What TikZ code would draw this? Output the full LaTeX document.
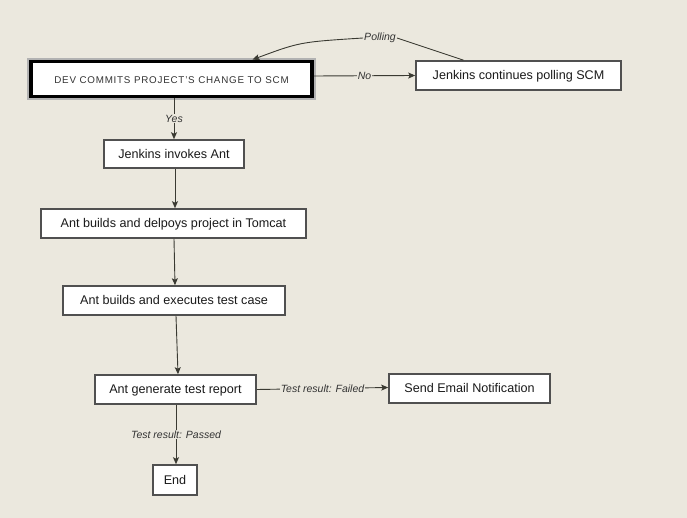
\documentclass[tikz,border=0pt]{standalone}
\usepackage{fontspec}
\setmainfont{Liberation Sans}
\usetikzlibrary{arrows.meta,calc}
\definecolor{bg}{HTML}{EBE8DE}
\definecolor{bord}{HTML}{505050}
\definecolor{ln}{HTML}{3A3A32}
\definecolor{txt}{HTML}{1A1A1A}
\definecolor{lbl}{HTML}{333333}
\tikzset{
  box/.style={draw=bord, line width=1.6pt, fill=white, inner sep=0pt, text=txt, text height=11pt, text depth=2.6pt, font=\fontsize{12.6}{14}\selectfont},
  conn/.style={draw=ln, line width=0.9pt, -{Stealth[length=7pt,width=6pt,inset=1.5pt]}},
  plain/.style={draw=ln, line width=0.9pt},
  elbl/.style={fill=bg, inner sep=1pt, text=lbl, font=\fontsize{10.5}{12}\selectfont\itshape},
}
\begin{document}
\begin{tikzpicture}[x=1pt,y=-1pt]
\useasboundingbox[fill=bg] (0,0) rectangle (687,518);
% top box with halo
\node[draw=black, line width=3.8pt, fill=white, inner sep=0pt, minimum width=281pt, minimum height=35pt,
  text height=9pt, text depth=0pt,
  preaction={draw=gray!60, line width=7.5pt, rounded corners=3pt},
  text=black!80, font=\fontsize{9.8}{11}\selectfont\addfontfeature{LetterSpace=8}]
  (top) at (171.5,79) {DEV COMMITS PROJECT'S CHANGE TO SCM};
\node[box, minimum width=205pt, minimum height=29pt] (jcp) at (518.5,75.5) {Jenkins continues polling SCM};
\node[box, minimum width=140pt, minimum height=28pt] (inv) at (174,154) {Jenkins invokes Ant};
\node[box, minimum width=265pt, minimum height=29pt] (dep) at (173.5,223.5) {Ant builds and delpoys project in Tomcat};
\node[box, minimum width=222pt, minimum height=29pt] (exe) at (174,300.5) {Ant builds and executes test case};
\node[box, minimum width=161pt, minimum height=29pt] (rep) at (175.5,389.5) {Ant generate test report};
\node[box, minimum width=161pt, minimum height=29pt] (mail) at (469.5,388.5) {Send Email Notification};
\node[box, minimum width=44pt, minimum height=30pt] (end) at (175,480) {End};

% connectors
\draw[conn] ([xshift=2.5pt]top.south) -- node[elbl] {Yes} (inv.north);
\draw[conn] ([xshift=1pt]inv.south) -- ([xshift=1.5pt]dep.north);
\draw[conn] ([xshift=0.5pt]dep.south) -- ([xshift=1pt]exe.north);
\draw[conn] ([xshift=2pt]exe.south) -- ([xshift=2.5pt]rep.north);
\draw[conn] (rep.east) -- node[elbl] {Test result: Failed} ([yshift=1pt]mail.west);
\draw[conn] ([xshift=0.5pt]rep.south) -- node[elbl, pos=0.5] {Test result: Passed} ([xshift=1pt]end.north);
\draw[conn] ([yshift=3pt]top.east) -- node[elbl] {No} (jcp.west);
\node[elbl] (pol) at (380,38) {Polling};
\draw[plain] ([xshift=-55pt]jcp.north) -- (pol.east);
\draw[conn] (pol.west) .. controls (300,42) .. ([xshift=81pt]top.north);
\end{tikzpicture}
\end{document}
